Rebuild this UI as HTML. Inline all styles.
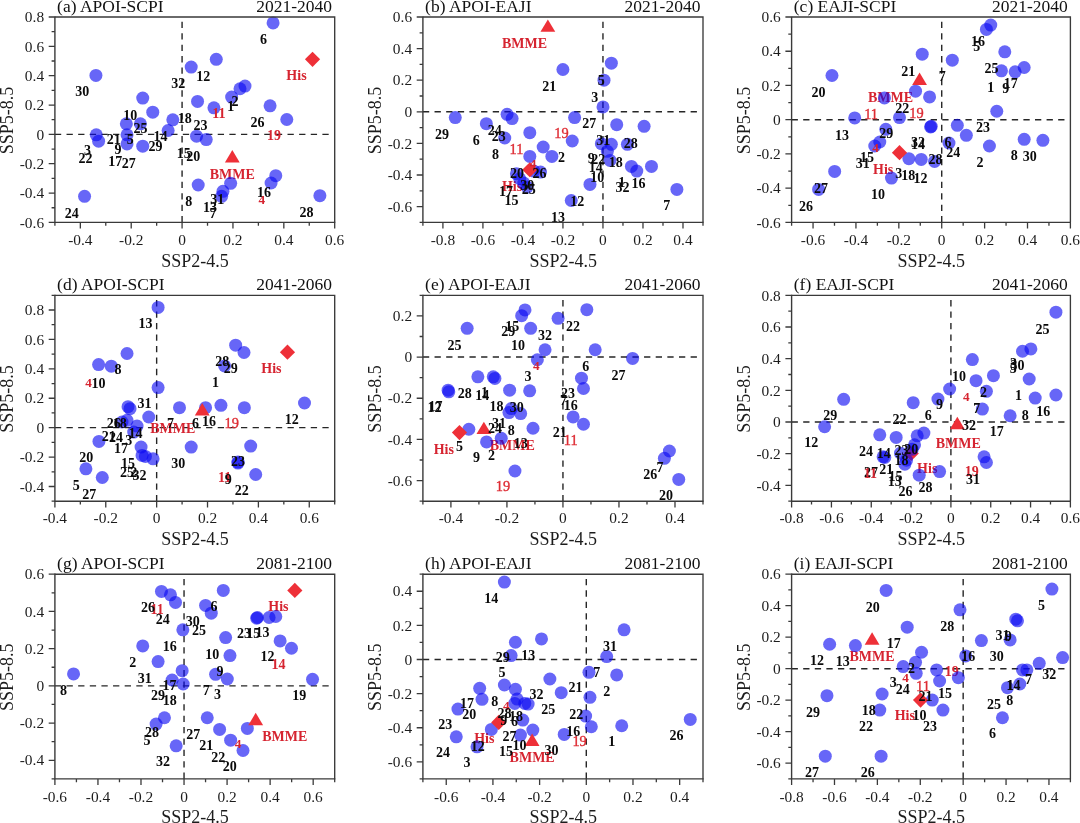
<!DOCTYPE html>
<html lang="en"><head><meta charset="utf-8"><title>SSP scatter panels</title>
<style>html,body{margin:0;padding:0;background:#fff}body{width:1080px;height:823px;overflow:hidden}svg{display:block;filter:blur(0.4px);font-family:"Liberation Serif","Times New Roman",serif}.t{font-size:15.4px;fill:#1c1c1c}.ti{font-size:16.5px;fill:#111;letter-spacing:0}.al{font-size:18px;fill:#1c1c1c}.n{font-size:14px;font-weight:bold;fill:#0a0a0a;text-anchor:middle}.r{font-size:14px;font-weight:bold;fill:rgb(214,36,48);text-anchor:middle}.r4{font-size:13.2px}.b{font-size:14px;font-weight:bold;fill:rgb(214,36,48);text-anchor:middle}.rr{font-size:14.4px;fill:rgb(222,44,52);stroke:rgb(222,44,52);stroke-width:0.35px;text-anchor:middle}.c{fill:rgb(10,8,242);fill-opacity:0.62}.ax{stroke:#3a3a3a;stroke-width:1.4;fill:none}.fr{stroke:#3a3a3a;stroke-width:1.35;fill:none}.tk{stroke:#3a3a3a;stroke-width:1.3}.d{stroke:#262626;stroke-width:1.4;fill:none}.m{fill:rgb(238,48,56)}</style></head><body>
<svg width="1080" height="823" viewBox="0 0 1080 823">
<rect width="1080" height="823" fill="#fff"/>
<g id="panel-a">
<path class="d" stroke-dasharray="6.3 5.33" d="M54.9 134.37H329.2"/>
<path class="d" stroke-dasharray="6.3 5.13" d="M182.08 222.4V21.3"/>
<text class="b" x="296.49" y="80.08">His</text><text class="b" x="232.31" y="178.65">BMME</text>
<circle class="c" cx="273.09" cy="22.92" r="6.5"/><circle class="c" cx="216.27" cy="59.34" r="6.5"/><circle class="c" cx="191.2" cy="67.03" r="6.5"/><circle class="c" cx="95.93" cy="75.38" r="6.5"/><circle class="c" cx="245.01" cy="86.07" r="6.5"/><circle class="c" cx="240" cy="88.75" r="6.5"/><circle class="c" cx="231.64" cy="97.1" r="6.5"/><circle class="c" cx="142.73" cy="98.1" r="6.5"/><circle class="c" cx="197.55" cy="101.45" r="6.5"/><circle class="c" cx="270.08" cy="105.79" r="6.5"/><circle class="c" cx="213.93" cy="107.79" r="6.5"/><circle class="c" cx="152.76" cy="112.14" r="6.5"/><circle class="c" cx="286.8" cy="119.49" r="6.5"/><circle class="c" cx="172.81" cy="119.82" r="6.5"/><circle class="c" cx="126.35" cy="123.83" r="6.5"/><circle class="c" cx="140.39" cy="123.83" r="6.5"/><circle class="c" cx="168.13" cy="130.52" r="6.5"/><circle class="c" cx="127.02" cy="134.86" r="6.5"/><circle class="c" cx="96.27" cy="134.86" r="6.5"/><circle class="c" cx="98.61" cy="141.21" r="6.5"/><circle class="c" cx="127.02" cy="143.88" r="6.5"/><circle class="c" cx="142.73" cy="146.22" r="6.5"/><circle class="c" cx="196.55" cy="136.2" r="6.5"/><circle class="c" cx="206.24" cy="139.54" r="6.5"/><circle class="c" cx="275.77" cy="175.63" r="6.5"/><circle class="c" cx="271.09" cy="182.98" r="6.5"/><circle class="c" cx="230.64" cy="183.31" r="6.5"/><circle class="c" cx="198.22" cy="184.98" r="6.5"/><circle class="c" cx="222.95" cy="191.33" r="6.5"/><circle class="c" cx="221.62" cy="196.34" r="6.5"/><circle class="c" cx="84.57" cy="196.34" r="6.5"/><circle class="c" cx="319.89" cy="195.67" r="6.5"/>
<path class="m" d="M232.31 149.98L239.71 162.38L224.91 162.38Z"/>
<path class="m" d="M312.53 51.74L320.13 59.34L312.53 66.94L304.93 59.34Z"/>
<text class="n" x="263.4" y="43.99">6</text><text class="n" x="203.23" y="80.75">12</text><text class="n" x="178.16" y="88.44">32</text><text class="n" x="82.23" y="96.12">30</text><text class="n" x="234.99" y="105.81">2</text><text class="n" x="230.64" y="111.16">1</text><text class="r" x="218.94" y="118.41">11</text><text class="n" x="130.36" y="119.51">10</text><text class="n" x="184.85" y="122.85">18</text><text class="n" x="257.38" y="126.86">26</text><text class="n" x="200.56" y="129.54">23</text><text class="n" x="140.39" y="132.54">25</text><text class="r" x="274.09" y="140.13">19</text><text class="n" x="160.45" y="140.9">14</text><text class="n" x="113.65" y="144.24">21</text><text class="n" x="130.36" y="144.24">5</text><text class="n" x="155.43" y="151.25">29</text><text class="n" x="87.58" y="155.26">3</text><text class="n" x="117.99" y="154.26">9</text><text class="n" x="183.84" y="157.94">15</text><text class="n" x="193.2" y="160.94">20</text><text class="n" x="85.57" y="162.62">22</text><text class="n" x="115.32" y="165.96">17</text><text class="n" x="128.69" y="167.96">27</text><text class="n" x="264.07" y="197.03">16</text><text class="r r4" x="261.73" y="204.28">4</text><text class="n" x="217.27" y="204.38">31</text><text class="n" x="188.86" y="206.39">8</text><text class="n" x="209.92" y="212.07">13</text><text class="n" x="212.92" y="217.75">7</text><text class="n" x="71.87" y="217.75">24</text><text class="n" x="306.52" y="217.08">28</text>
<path class="fr" d="M54.9 17H334.7V222.4"/>
<path class="ax" d="M54.9 16.4V222.4H335.3"/>
<path class="tk" d="M54.9 222.4v3.3M80.34 222.4v6.2M105.77 222.4v3.3M131.21 222.4v6.2M156.65 222.4v3.3M182.08 222.4v6.2M207.52 222.4v3.3M232.95 222.4v6.2M258.39 222.4v3.3M283.83 222.4v6.2M309.26 222.4v3.3M334.7 222.4v6.2M54.9 222.4h-6.2M54.9 207.73h-3.3M54.9 193.06h-6.2M54.9 178.39h-3.3M54.9 163.71h-6.2M54.9 149.04h-3.3M54.9 134.37h-6.2M54.9 119.7h-3.3M54.9 105.03h-6.2M54.9 90.36h-3.3M54.9 75.69h-6.2M54.9 61.01h-3.3M54.9 46.34h-6.2M54.9 31.67h-3.3M54.9 17h-6.2"/>
<text class="t" text-anchor="middle" x="80.34" y="245.1">-0.4</text><text class="t" text-anchor="middle" x="131.21" y="245.1">-0.2</text><text class="t" text-anchor="middle" x="182.08" y="245.1">0</text><text class="t" text-anchor="middle" x="232.95" y="245.1">0.2</text><text class="t" text-anchor="middle" x="283.83" y="245.1">0.4</text><text class="t" text-anchor="middle" x="334.7" y="245.1">0.6</text><text class="t" text-anchor="end" x="44.1" y="227.6">-0.6</text><text class="t" text-anchor="end" x="44.1" y="198.26">-0.4</text><text class="t" text-anchor="end" x="44.1" y="168.91">-0.2</text><text class="t" text-anchor="end" x="44.1" y="139.57">0</text><text class="t" text-anchor="end" x="44.1" y="110.23">0.2</text><text class="t" text-anchor="end" x="44.1" y="80.89">0.4</text><text class="t" text-anchor="end" x="44.1" y="51.54">0.6</text><text class="t" text-anchor="end" x="44.1" y="22.2">0.8</text>
<text class="ti" transform="translate(57.1 12.1) scale(1.06 1)">(a) APOI-SCPI</text>
<text class="ti" text-anchor="end" transform="translate(332.1 12.1) scale(1.06 1)">2021-2040</text>
<text class="al" text-anchor="middle" x="195.1" y="266.6">SSP2-4.5</text>
<text class="al" text-anchor="middle" transform="translate(13.3 120.4) rotate(-90)">SSP5-8.5</text>
</g>
<g id="panel-b">
<path class="d" stroke-dasharray="6.3 5.34" d="M422.9 111.8H697.5"/>
<path class="d" stroke-dasharray="6.3 5.13" d="M602.96 222.4V21.3"/>
<text class="b" x="524.46" y="48.14">BMME</text><text class="b" x="512.09" y="191.15">His</text>
<circle class="c" cx="611.36" cy="63.15" r="6.5"/><circle class="c" cx="562.9" cy="69.5" r="6.5"/><circle class="c" cx="604.01" cy="80.19" r="6.5"/><circle class="c" cx="603.01" cy="106.93" r="6.5"/><circle class="c" cx="455.26" cy="117.62" r="6.5"/><circle class="c" cx="507.08" cy="114.28" r="6.5"/><circle class="c" cx="512.09" cy="118.62" r="6.5"/><circle class="c" cx="486.35" cy="123.63" r="6.5"/><circle class="c" cx="574.6" cy="117.62" r="6.5"/><circle class="c" cx="616.71" cy="124.64" r="6.5"/><circle class="c" cx="644.12" cy="126.31" r="6.5"/><circle class="c" cx="529.81" cy="132.65" r="6.5"/><circle class="c" cx="504.74" cy="138" r="6.5"/><circle class="c" cx="572.26" cy="141.01" r="6.5"/><circle class="c" cx="543.18" cy="147.02" r="6.5"/><circle class="c" cx="529.81" cy="156.38" r="6.5"/><circle class="c" cx="551.87" cy="156.38" r="6.5"/><circle class="c" cx="601.34" cy="143.68" r="6.5"/><circle class="c" cx="611.36" cy="144.35" r="6.5"/><circle class="c" cx="607.35" cy="151.37" r="6.5"/><circle class="c" cx="610.03" cy="160.39" r="6.5"/><circle class="c" cx="627.41" cy="144.35" r="6.5"/><circle class="c" cx="631.42" cy="166.4" r="6.5"/><circle class="c" cx="636.77" cy="171.08" r="6.5"/><circle class="c" cx="651.48" cy="166.4" r="6.5"/><circle class="c" cx="676.88" cy="189.46" r="6.5"/><circle class="c" cx="589.97" cy="184.45" r="6.5"/><circle class="c" cx="571.25" cy="200.49" r="6.5"/><circle class="c" cx="540.5" cy="172.08" r="6.5"/><circle class="c" cx="516.43" cy="173.75" r="6.5"/><circle class="c" cx="519.78" cy="178.77" r="6.5"/><circle class="c" cx="523.79" cy="183.11" r="6.5"/><circle class="c" cx="527.13" cy="187.12" r="6.5"/><circle class="c" cx="533.82" cy="171.08" r="6.5"/>
<path class="m" d="M547.86 19.46L555.26 31.86L540.46 31.86Z"/>
<path class="m" d="M529.81 162.14L537.41 169.74L529.81 177.34L522.21 169.74Z"/>
<text class="n" x="549.19" y="90.91">21</text><text class="n" x="601.34" y="84.89">5</text><text class="n" x="594.65" y="101.6">3</text><text class="n" x="589.3" y="128.33">27</text><text class="n" x="441.89" y="139.36">29</text><text class="n" x="494.71" y="135.02">24</text><text class="n" x="498.72" y="140.7">23</text><text class="n" x="476.32" y="145.04">6</text><text class="rr" x="561.56" y="138.26">19</text><text class="rr" x="516.43" y="153.96">11</text><text class="n" x="495.38" y="159.41">8</text><text class="n" x="561.56" y="161.75">2</text><text class="n" x="603.34" y="145.04">31</text><text class="n" x="630.75" y="147.71">28</text><text class="n" x="591.31" y="163.42">9</text><text class="n" x="598.33" y="164.42">22</text><text class="n" x="615.71" y="166.76">18</text><text class="n" x="595.65" y="171.77">14</text><text class="n" x="597.33" y="181.8">10</text><text class="r r4" x="533.15" y="168.33">4</text><text class="n" x="517.1" y="177.79">20</text><text class="n" x="539.5" y="177.79">26</text><text class="n" x="621.73" y="186.81">1</text><text class="n" x="622.4" y="191.82">32</text><text class="n" x="638.44" y="187.81">16</text><text class="n" x="506.07" y="195.83">17</text><text class="n" x="527.13" y="190.15">30</text><text class="n" x="528.8" y="194.16">25</text><text class="n" x="511.42" y="204.52">15</text><text class="n" x="577.27" y="205.85">12</text><text class="n" x="557.88" y="221.89">13</text><text class="n" x="666.85" y="209.53">7</text>
<path class="fr" d="M422.9 17H703V222.4"/>
<path class="ax" d="M422.9 16.4V222.4H703.6"/>
<path class="tk" d="M422.9 222.4v3.3M442.91 222.4v6.2M462.91 222.4v3.3M482.92 222.4v6.2M502.93 222.4v3.3M522.94 222.4v6.2M542.94 222.4v3.3M562.95 222.4v6.2M582.96 222.4v3.3M602.96 222.4v6.2M622.97 222.4v3.3M642.98 222.4v6.2M662.99 222.4v3.3M682.99 222.4v6.2M703 222.4v3.3M422.9 222.4h-3.3M422.9 206.6h-6.2M422.9 190.8h-3.3M422.9 175h-6.2M422.9 159.2h-3.3M422.9 143.4h-6.2M422.9 127.6h-3.3M422.9 111.8h-6.2M422.9 96h-3.3M422.9 80.2h-6.2M422.9 64.4h-3.3M422.9 48.6h-6.2M422.9 32.8h-3.3M422.9 17h-6.2"/>
<text class="t" text-anchor="middle" x="442.91" y="245.1">-0.8</text><text class="t" text-anchor="middle" x="482.92" y="245.1">-0.6</text><text class="t" text-anchor="middle" x="522.94" y="245.1">-0.4</text><text class="t" text-anchor="middle" x="562.95" y="245.1">-0.2</text><text class="t" text-anchor="middle" x="602.96" y="245.1">0</text><text class="t" text-anchor="middle" x="642.98" y="245.1">0.2</text><text class="t" text-anchor="middle" x="682.99" y="245.1">0.4</text><text class="t" text-anchor="end" x="412.1" y="211.8">-0.6</text><text class="t" text-anchor="end" x="412.1" y="180.2">-0.4</text><text class="t" text-anchor="end" x="412.1" y="148.6">-0.2</text><text class="t" text-anchor="end" x="412.1" y="117">0</text><text class="t" text-anchor="end" x="412.1" y="85.4">0.2</text><text class="t" text-anchor="end" x="412.1" y="53.8">0.4</text><text class="t" text-anchor="end" x="412.1" y="22.2">0.6</text>
<text class="ti" transform="translate(425.1 12.1) scale(1.06 1)">(b) APOI-EAJI</text>
<text class="ti" text-anchor="end" transform="translate(700.4 12.1) scale(1.06 1)">2021-2040</text>
<text class="al" text-anchor="middle" x="563.25" y="266.6">SSP2-4.5</text>
<text class="al" text-anchor="middle" transform="translate(381.3 120.4) rotate(-90)">SSP5-8.5</text>
</g>
<g id="panel-c">
<path class="d" stroke-dasharray="6.3 5.29" d="M791.6 119.7H1064.9"/>
<path class="d" stroke-dasharray="6.3 5.13" d="M941.72 222.4V21.3"/>
<text class="b" x="890.47" y="101.6">BMME</text><text class="b" x="883.12" y="174.44">His</text>
<circle class="c" cx="990.75" cy="25.06" r="6.5"/><circle class="c" cx="986.41" cy="29.4" r="6.5"/><circle class="c" cx="1004.79" cy="51.79" r="6.5"/><circle class="c" cx="922.23" cy="54.13" r="6.5"/><circle class="c" cx="952.31" cy="60.15" r="6.5"/><circle class="c" cx="831.98" cy="75.52" r="6.5"/><circle class="c" cx="1024.18" cy="67.5" r="6.5"/><circle class="c" cx="1015.15" cy="71.84" r="6.5"/><circle class="c" cx="1001.45" cy="70.84" r="6.5"/><circle class="c" cx="915.54" cy="91.22" r="6.5"/><circle class="c" cx="929.58" cy="96.9" r="6.5"/><circle class="c" cx="884.46" cy="97.9" r="6.5"/><circle class="c" cx="996.77" cy="111.27" r="6.5"/><circle class="c" cx="854.71" cy="117.95" r="6.5"/><circle class="c" cx="899.5" cy="117.62" r="6.5"/><circle class="c" cx="930.58" cy="126.97" r="6.5"/><circle class="c" cx="885.79" cy="129.31" r="6.5"/><circle class="c" cx="957.33" cy="125.3" r="6.5"/><circle class="c" cx="966.35" cy="135.33" r="6.5"/><circle class="c" cx="879.78" cy="142.01" r="6.5"/><circle class="c" cx="874.76" cy="146.02" r="6.5"/><circle class="c" cx="948.97" cy="143.01" r="6.5"/><circle class="c" cx="989.42" cy="146.02" r="6.5"/><circle class="c" cx="1024.18" cy="139.34" r="6.5"/><circle class="c" cx="1042.9" cy="140.34" r="6.5"/><circle class="c" cx="908.86" cy="158.72" r="6.5"/><circle class="c" cx="921.23" cy="159.39" r="6.5"/><circle class="c" cx="934.6" cy="161.39" r="6.5"/><circle class="c" cx="834.65" cy="171.42" r="6.5"/><circle class="c" cx="891.48" cy="178.1" r="6.5"/><circle class="c" cx="818.61" cy="189.46" r="6.5"/><circle class="c" cx="931.25" cy="126.31" r="6.5"/>
<path class="m" d="M919.55 72.59L926.95 84.99L912.15 84.99Z"/>
<path class="m" d="M899.5 145.1L907.1 152.7L899.5 160.3L891.9 152.7Z"/>
<text class="n" x="978.05" y="46.47">16</text><text class="n" x="976.71" y="50.81">5</text><text class="n" x="908.19" y="75.54">21</text><text class="n" x="942.28" y="80.88">7</text><text class="n" x="991.42" y="72.53">25</text><text class="n" x="1010.81" y="88.24">17</text><text class="n" x="990.75" y="91.58">1</text><text class="n" x="1005.79" y="92.58">9</text><text class="n" x="818.61" y="96.59">20</text><text class="n" x="902.17" y="112.63">22</text><text class="rr" x="871.09" y="119.21">11</text><text class="rr" x="916.55" y="117.54">19</text><text class="n" x="983.06" y="132.34">23</text><text class="n" x="842.01" y="140.03">13</text><text class="n" x="886.13" y="138.36">29</text><text class="n" x="917.88" y="146.71">32</text><text class="n" x="917.88" y="149.05">14</text><text class="n" x="947.97" y="146.71">6</text><text class="r r4" x="875.43" y="151.62">4</text><text class="n" x="953.31" y="156.74">24</text><text class="n" x="935.6" y="164.42">28</text><text class="n" x="867.08" y="162.42">15</text><text class="n" x="862.73" y="168.43">31</text><text class="n" x="980.06" y="167.43">2</text><text class="n" x="1014.15" y="160.08">8</text><text class="n" x="1029.86" y="160.74">30</text><text class="n" x="898.83" y="178.45">3</text><text class="n" x="908.19" y="180.13">18</text><text class="n" x="920.56" y="182.8">12</text><text class="n" x="878.11" y="198.5">10</text><text class="n" x="820.95" y="192.82">27</text><text class="n" x="805.91" y="211.2">26</text>
<path class="fr" d="M791.6 17H1070.4V222.4"/>
<path class="ax" d="M791.6 16.4V222.4H1071"/>
<path class="tk" d="M791.6 222.4v3.3M813.05 222.4v6.2M834.49 222.4v3.3M855.94 222.4v6.2M877.38 222.4v3.3M898.83 222.4v6.2M920.28 222.4v3.3M941.72 222.4v6.2M963.17 222.4v3.3M984.62 222.4v6.2M1006.06 222.4v3.3M1027.51 222.4v6.2M1048.95 222.4v3.3M1070.4 222.4v6.2M791.6 222.4h-6.2M791.6 205.28h-3.3M791.6 188.17h-6.2M791.6 171.05h-3.3M791.6 153.93h-6.2M791.6 136.82h-3.3M791.6 119.7h-6.2M791.6 102.58h-3.3M791.6 85.47h-6.2M791.6 68.35h-3.3M791.6 51.23h-6.2M791.6 34.12h-3.3M791.6 17h-6.2"/>
<text class="t" text-anchor="middle" x="813.05" y="245.1">-0.6</text><text class="t" text-anchor="middle" x="855.94" y="245.1">-0.4</text><text class="t" text-anchor="middle" x="898.83" y="245.1">-0.2</text><text class="t" text-anchor="middle" x="941.72" y="245.1">0</text><text class="t" text-anchor="middle" x="984.62" y="245.1">0.2</text><text class="t" text-anchor="middle" x="1027.51" y="245.1">0.4</text><text class="t" text-anchor="middle" x="1070.4" y="245.1">0.6</text><text class="t" text-anchor="end" x="780.8" y="227.6">-0.6</text><text class="t" text-anchor="end" x="780.8" y="193.37">-0.4</text><text class="t" text-anchor="end" x="780.8" y="159.13">-0.2</text><text class="t" text-anchor="end" x="780.8" y="124.9">0</text><text class="t" text-anchor="end" x="780.8" y="90.67">0.2</text><text class="t" text-anchor="end" x="780.8" y="56.43">0.4</text><text class="t" text-anchor="end" x="780.8" y="22.2">0.6</text>
<text class="ti" transform="translate(793.8 12.1) scale(1.06 1)">(c) EAJI-SCPI</text>
<text class="ti" text-anchor="end" transform="translate(1067.8 12.1) scale(1.06 1)">2021-2040</text>
<text class="al" text-anchor="middle" x="931.3" y="266.6">SSP2-4.5</text>
<text class="al" text-anchor="middle" transform="translate(750 120.4) rotate(-90)">SSP5-8.5</text>
</g>
<g id="panel-d">
<path class="d" stroke-dasharray="6.3 5.33" d="M54.9 427.66H329.2"/>
<path class="d" stroke-dasharray="6.3 5.16" d="M156.65 501.2V299.6"/>
<text class="b" x="271.42" y="372.59">His</text><text class="b" x="172.81" y="432.74">BMME</text>
<circle class="c" cx="158.11" cy="307.41" r="6.5"/><circle class="c" cx="235.65" cy="345.17" r="6.5"/><circle class="c" cx="244.01" cy="352.52" r="6.5"/><circle class="c" cx="127.02" cy="353.52" r="6.5"/><circle class="c" cx="98.61" cy="364.55" r="6.5"/><circle class="c" cx="111.31" cy="366.22" r="6.5"/><circle class="c" cx="224.62" cy="365.89" r="6.5"/><circle class="c" cx="158.11" cy="387.61" r="6.5"/><circle class="c" cx="304.51" cy="402.98" r="6.5"/><circle class="c" cx="128.02" cy="406.65" r="6.5"/><circle class="c" cx="130.03" cy="408.66" r="6.5"/><circle class="c" cx="179.5" cy="407.65" r="6.5"/><circle class="c" cx="205.57" cy="407.65" r="6.5"/><circle class="c" cx="220.95" cy="405.32" r="6.5"/><circle class="c" cx="244.35" cy="407.65" r="6.5"/><circle class="c" cx="148.75" cy="417.01" r="6.5"/><circle class="c" cx="127.02" cy="420.35" r="6.5"/><circle class="c" cx="122.01" cy="422.02" r="6.5"/><circle class="c" cx="137.05" cy="426.03" r="6.5"/><circle class="c" cx="133.7" cy="432.05" r="6.5"/><circle class="c" cx="98.94" cy="441.4" r="6.5"/><circle class="c" cx="141.06" cy="447.08" r="6.5"/><circle class="c" cx="142.06" cy="455.44" r="6.5"/><circle class="c" cx="145.4" cy="456.44" r="6.5"/><circle class="c" cx="153.09" cy="458.78" r="6.5"/><circle class="c" cx="191.2" cy="447.08" r="6.5"/><circle class="c" cx="250.7" cy="446.08" r="6.5"/><circle class="c" cx="237.99" cy="463.12" r="6.5"/><circle class="c" cx="255.71" cy="474.48" r="6.5"/><circle class="c" cx="85.91" cy="468.8" r="6.5"/><circle class="c" cx="102.28" cy="477.49" r="6.5"/><circle class="c" cx="237.99" cy="462.12" r="6.5"/>
<path class="m" d="M202.23 403.06L209.63 415.46L194.83 415.46Z"/>
<path class="m" d="M287.47 344.59L295.07 352.19L287.47 359.79L279.87 352.19Z"/>
<text class="n" x="145.4" y="328.15">13</text><text class="n" x="222.28" y="365.91">28</text><text class="n" x="230.64" y="373.26">29</text><text class="n" x="117.99" y="374.26">8</text><text class="r r4" x="88.58" y="386.53">4</text><text class="n" x="98.61" y="387.63">10</text><text class="n" x="215.6" y="387.29">1</text><text class="n" x="144.4" y="408.35">31</text><text class="n" x="291.81" y="424.38">12</text><text class="n" x="208.91" y="425.72">16</text><text class="n" x="195.54" y="428.39">6</text><text class="rr" x="231.64" y="427.63">19</text><text class="n" x="170.47" y="427.73">7</text><text class="n" x="113.65" y="427.73">26</text><text class="n" x="119.67" y="427.73">18</text><text class="n" x="108.64" y="441.09">21</text><text class="n" x="115.99" y="441.76">24</text><text class="n" x="135.38" y="438.42">14</text><text class="n" x="128.69" y="445.1">3</text><text class="n" x="121" y="453.45">17</text><text class="n" x="86.24" y="462.48">20</text><text class="n" x="128.02" y="467.82">15</text><text class="n" x="178.16" y="467.82">30</text><text class="n" x="237.99" y="466.15">23</text><text class="n" x="127.02" y="476.84">25</text><text class="n" x="133.7" y="476.84">2</text><text class="n" x="139.39" y="479.52">32</text><text class="r" x="224.62" y="481.76">11</text><text class="n" x="228.3" y="483.53">9</text><text class="n" x="241.67" y="494.55">22</text><text class="n" x="76.21" y="490.21">5</text><text class="n" x="89.25" y="498.56">27</text>
<path class="fr" d="M54.9 295.3H334.7V501.2"/>
<path class="ax" d="M54.9 294.7V501.2H335.3"/>
<path class="tk" d="M54.9 501.2v6.2M80.34 501.2v3.3M105.77 501.2v6.2M131.21 501.2v3.3M156.65 501.2v6.2M182.08 501.2v3.3M207.52 501.2v6.2M232.95 501.2v3.3M258.39 501.2v6.2M283.83 501.2v3.3M309.26 501.2v6.2M334.7 501.2v3.3M54.9 501.2h-3.3M54.9 486.49h-6.2M54.9 471.79h-3.3M54.9 457.08h-6.2M54.9 442.37h-3.3M54.9 427.66h-6.2M54.9 412.96h-3.3M54.9 398.25h-6.2M54.9 383.54h-3.3M54.9 368.84h-6.2M54.9 354.13h-3.3M54.9 339.42h-6.2M54.9 324.71h-3.3M54.9 310.01h-6.2M54.9 295.3h-3.3"/>
<text class="t" text-anchor="middle" x="54.9" y="523.2">-0.4</text><text class="t" text-anchor="middle" x="105.77" y="523.2">-0.2</text><text class="t" text-anchor="middle" x="156.65" y="523.2">0</text><text class="t" text-anchor="middle" x="207.52" y="523.2">0.2</text><text class="t" text-anchor="middle" x="258.39" y="523.2">0.4</text><text class="t" text-anchor="middle" x="309.26" y="523.2">0.6</text><text class="t" text-anchor="end" x="44.1" y="491.69">-0.4</text><text class="t" text-anchor="end" x="44.1" y="462.28">-0.2</text><text class="t" text-anchor="end" x="44.1" y="432.86">0</text><text class="t" text-anchor="end" x="44.1" y="403.45">0.2</text><text class="t" text-anchor="end" x="44.1" y="374.04">0.4</text><text class="t" text-anchor="end" x="44.1" y="344.62">0.6</text><text class="t" text-anchor="end" x="44.1" y="315.21">0.8</text>
<text class="ti" transform="translate(57.1 290.4) scale(1.06 1)">(d) APOI-SCPI</text>
<text class="ti" text-anchor="end" transform="translate(332.1 290.4) scale(1.06 1)">2041-2060</text>
<text class="al" text-anchor="middle" x="195.1" y="544.6">SSP2-4.5</text>
<text class="al" text-anchor="middle" transform="translate(13.3 398.95) rotate(-90)">SSP5-8.5</text>
</g>
<g id="panel-e">
<path class="d" stroke-dasharray="6.3 5.34" d="M422.9 357.07H697.5"/>
<path class="d" stroke-dasharray="6.3 5.16" d="M562.95 501.2V299.6"/>
<text class="b" x="512.29" y="449.66">BMME</text><text class="b" x="443.77" y="454">His</text>
<circle class="c" cx="524.99" cy="309.97" r="6.5"/><circle class="c" cx="521.65" cy="315.65" r="6.5"/><circle class="c" cx="586.83" cy="309.63" r="6.5"/><circle class="c" cx="558.08" cy="318.32" r="6.5"/><circle class="c" cx="467.16" cy="328.34" r="6.5"/><circle class="c" cx="530.67" cy="328.34" r="6.5"/><circle class="c" cx="545.05" cy="349.73" r="6.5"/><circle class="c" cx="595.19" cy="349.73" r="6.5"/><circle class="c" cx="537.36" cy="359.75" r="6.5"/><circle class="c" cx="632.62" cy="358.42" r="6.5"/><circle class="c" cx="477.86" cy="376.8" r="6.5"/><circle class="c" cx="493.24" cy="376.8" r="6.5"/><circle class="c" cx="494.91" cy="378.47" r="6.5"/><circle class="c" cx="581.48" cy="378.13" r="6.5"/><circle class="c" cx="583.49" cy="388.49" r="6.5"/><circle class="c" cx="448.11" cy="390.16" r="6.5"/><circle class="c" cx="448.78" cy="391.83" r="6.5"/><circle class="c" cx="509.62" cy="390.16" r="6.5"/><circle class="c" cx="529.67" cy="390.83" r="6.5"/><circle class="c" cx="511.29" cy="408.54" r="6.5"/><circle class="c" cx="508.95" cy="412.55" r="6.5"/><circle class="c" cx="520.65" cy="413.55" r="6.5"/><circle class="c" cx="573.12" cy="416.89" r="6.5"/><circle class="c" cx="583.49" cy="424.24" r="6.5"/><circle class="c" cx="468.84" cy="429.26" r="6.5"/><circle class="c" cx="533.01" cy="428.25" r="6.5"/><circle class="c" cx="486.55" cy="441.95" r="6.5"/><circle class="c" cx="501.26" cy="438.28" r="6.5"/><circle class="c" cx="514.96" cy="471.02" r="6.5"/><circle class="c" cx="669.39" cy="450.98" r="6.5"/><circle class="c" cx="664.38" cy="458.33" r="6.5"/><circle class="c" cx="678.75" cy="479.38" r="6.5"/>
<path class="m" d="M483.88 421.65L491.28 434.05L476.48 434.05Z"/>
<path class="m" d="M459.48 425L467.08 432.6L459.48 440.2L451.88 432.6Z"/>
<text class="n" x="573.12" y="331.04">22</text><text class="n" x="512.29" y="331.04">15</text><text class="n" x="508.28" y="336.39">29</text><text class="n" x="545.05" y="339.73">32</text><text class="n" x="454.46" y="349.75">25</text><text class="n" x="517.97" y="350.42">10</text><text class="r r4" x="536.36" y="370.37">4</text><text class="n" x="585.83" y="371.14">6</text><text class="n" x="618.58" y="379.82">27</text><text class="n" x="528" y="381.16">3</text><text class="n" x="464.82" y="397.87">28</text><text class="n" x="482.21" y="399.54">14</text><text class="n" x="484.55" y="397.2">1</text><text class="n" x="568.11" y="397.87">23</text><text class="n" x="570.78" y="409.56">16</text><text class="n" x="563.43" y="404.55">7</text><text class="n" x="435.41" y="410.9">17</text><text class="n" x="434.41" y="412.24">12</text><text class="n" x="496.58" y="411.23">18</text><text class="n" x="516.63" y="411.57">30</text><text class="n" x="498.92" y="428.28">31</text><text class="n" x="494.91" y="433.29">24</text><text class="n" x="511.29" y="434.62">8</text><text class="n" x="559.75" y="437.3">21</text><text class="rr" x="570.78" y="444.88">11</text><text class="n" x="520.65" y="448.32">13</text><text class="n" x="459.48" y="450.66">5</text><text class="n" x="491.56" y="459.68">2</text><text class="n" x="476.52" y="462.36">9</text><text class="rr" x="502.93" y="491.33">19</text><text class="n" x="650.34" y="479.07">26</text><text class="n" x="660.03" y="472.38">7</text><text class="n" x="666.05" y="500.12">20</text>
<path class="fr" d="M422.9 295.3H703V501.2"/>
<path class="ax" d="M422.9 294.7V501.2H703.6"/>
<path class="tk" d="M422.9 501.2v3.3M450.91 501.2v6.2M478.92 501.2v3.3M506.93 501.2v6.2M534.94 501.2v3.3M562.95 501.2v6.2M590.96 501.2v3.3M618.97 501.2v6.2M646.98 501.2v3.3M674.99 501.2v6.2M703 501.2v3.3M422.9 501.2h-3.3M422.9 480.61h-6.2M422.9 460.02h-3.3M422.9 439.43h-6.2M422.9 418.84h-3.3M422.9 398.25h-6.2M422.9 377.66h-3.3M422.9 357.07h-6.2M422.9 336.48h-3.3M422.9 315.89h-6.2M422.9 295.3h-3.3"/>
<text class="t" text-anchor="middle" x="450.91" y="523.2">-0.4</text><text class="t" text-anchor="middle" x="506.93" y="523.2">-0.2</text><text class="t" text-anchor="middle" x="562.95" y="523.2">0</text><text class="t" text-anchor="middle" x="618.97" y="523.2">0.2</text><text class="t" text-anchor="middle" x="674.99" y="523.2">0.4</text><text class="t" text-anchor="end" x="412.1" y="485.81">-0.6</text><text class="t" text-anchor="end" x="412.1" y="444.63">-0.4</text><text class="t" text-anchor="end" x="412.1" y="403.45">-0.2</text><text class="t" text-anchor="end" x="412.1" y="362.27">0</text><text class="t" text-anchor="end" x="412.1" y="321.09">0.2</text>
<text class="ti" transform="translate(425.1 290.4) scale(1.06 1)">(e) APOI-EAJI</text>
<text class="ti" text-anchor="end" transform="translate(700.4 290.4) scale(1.06 1)">2041-2060</text>
<text class="al" text-anchor="middle" x="563.25" y="544.6">SSP2-4.5</text>
<text class="al" text-anchor="middle" transform="translate(381.3 398.95) rotate(-90)">SSP5-8.5</text>
</g>
<g id="panel-f">
<path class="d" stroke-dasharray="6.3 5.29" d="M791.6 422.01H1064.9"/>
<path class="d" stroke-dasharray="6.3 5.16" d="M950.91 501.2V299.6"/>
<text class="b" x="958.33" y="448.17">BMME</text><text class="b" x="927.24" y="473.23">His</text>
<path class="m" d="M911.2 445.9L918.8 453.5L911.2 461.1L903.6 453.5Z"/>
<circle class="c" cx="1055.93" cy="312.16" r="6.5"/><circle class="c" cx="1030.86" cy="348.91" r="6.5"/><circle class="c" cx="1022.51" cy="351.25" r="6.5"/><circle class="c" cx="972.37" cy="359.6" r="6.5"/><circle class="c" cx="993.43" cy="375.64" r="6.5"/><circle class="c" cx="976.04" cy="380.66" r="6.5"/><circle class="c" cx="1029.19" cy="378.98" r="6.5"/><circle class="c" cx="986.41" cy="391.35" r="6.5"/><circle class="c" cx="949.64" cy="389.01" r="6.5"/><circle class="c" cx="1055.93" cy="395.02" r="6.5"/><circle class="c" cx="1035.21" cy="398.03" r="6.5"/><circle class="c" cx="937.94" cy="399.03" r="6.5"/><circle class="c" cx="913.2" cy="402.71" r="6.5"/><circle class="c" cx="843.68" cy="399.37" r="6.5"/><circle class="c" cx="982.4" cy="409.06" r="6.5"/><circle class="c" cx="1010.14" cy="415.74" r="6.5"/><circle class="c" cx="824.62" cy="426.77" r="6.5"/><circle class="c" cx="879.78" cy="434.79" r="6.5"/><circle class="c" cx="896.16" cy="437.46" r="6.5"/><circle class="c" cx="917.21" cy="435.79" r="6.5"/><circle class="c" cx="923.9" cy="433.12" r="6.5"/><circle class="c" cx="914.54" cy="444.81" r="6.5"/><circle class="c" cx="912.2" cy="449.15" r="6.5"/><circle class="c" cx="900.5" cy="453.16" r="6.5"/><circle class="c" cx="883.12" cy="456.84" r="6.5"/><circle class="c" cx="884.79" cy="457.51" r="6.5"/><circle class="c" cx="906.52" cy="460.18" r="6.5"/><circle class="c" cx="904.85" cy="464.19" r="6.5"/><circle class="c" cx="984.07" cy="456.84" r="6.5"/><circle class="c" cx="986.41" cy="462.52" r="6.5"/><circle class="c" cx="939.61" cy="471.54" r="6.5"/><circle class="c" cx="919.22" cy="475.22" r="6.5"/>
<path class="m" d="M957.33 416.83L964.73 429.23L949.93 429.23Z"/>
<text class="n" x="1042.56" y="333.56">25</text><text class="n" x="1017.49" y="369.65">30</text><text class="n" x="1013.15" y="372.99">5</text><text class="n" x="1013.48" y="367.65">3</text><text class="n" x="959" y="381.01">10</text><text class="n" x="983.4" y="397.05">2</text><text class="n" x="1018.5" y="400.39">1</text><text class="r r4" x="966.35" y="401.29">4</text><text class="n" x="939.61" y="409.41">9</text><text class="n" x="976.71" y="412.75">7</text><text class="n" x="1043.23" y="416.43">16</text><text class="n" x="1025.18" y="419.77">8</text><text class="n" x="928.25" y="420.44">6</text><text class="n" x="830.31" y="420.44">29</text><text class="n" x="899.5" y="424.45">22</text><text class="n" x="969.03" y="429.8">32</text><text class="n" x="996.77" y="436.14">17</text><text class="n" x="811.25" y="447.17">12</text><text class="n" x="866.07" y="455.53">24</text><text class="n" x="883.79" y="458.2">14</text><text class="n" x="901.5" y="454.86">23</text><text class="n" x="911.2" y="453.85">20</text><text class="n" x="901.5" y="464.55">18</text><text class="n" x="886.13" y="473.9">21</text><text class="n" x="871.09" y="477.24">27</text><text class="r" x="870.42" y="477.81">11</text><text class="r" x="971.7" y="476.14">19</text><text class="n" x="895.49" y="480.59">15</text><text class="n" x="894.82" y="485.6">13</text><text class="n" x="973.04" y="483.93">31</text><text class="n" x="925.57" y="491.61">28</text><text class="n" x="905.52" y="496.29">26</text>
<path class="fr" d="M791.6 295.3H1070.4V501.2"/>
<path class="ax" d="M791.6 294.7V501.2H1071"/>
<path class="tk" d="M791.6 501.2v6.2M811.51 501.2v3.3M831.43 501.2v6.2M851.34 501.2v3.3M871.26 501.2v6.2M891.17 501.2v3.3M911.09 501.2v6.2M931 501.2v3.3M950.91 501.2v6.2M970.83 501.2v3.3M990.74 501.2v6.2M1010.66 501.2v3.3M1030.57 501.2v6.2M1050.49 501.2v3.3M1070.4 501.2v6.2M791.6 501.2h-3.3M791.6 485.36h-6.2M791.6 469.52h-3.3M791.6 453.68h-6.2M791.6 437.85h-3.3M791.6 422.01h-6.2M791.6 406.17h-3.3M791.6 390.33h-6.2M791.6 374.49h-3.3M791.6 358.65h-6.2M791.6 342.82h-3.3M791.6 326.98h-6.2M791.6 311.14h-3.3M791.6 295.3h-6.2"/>
<text class="t" text-anchor="middle" x="791.6" y="523.2">-0.8</text><text class="t" text-anchor="middle" x="831.43" y="523.2">-0.6</text><text class="t" text-anchor="middle" x="871.26" y="523.2">-0.4</text><text class="t" text-anchor="middle" x="911.09" y="523.2">-0.2</text><text class="t" text-anchor="middle" x="950.91" y="523.2">0</text><text class="t" text-anchor="middle" x="990.74" y="523.2">0.2</text><text class="t" text-anchor="middle" x="1030.57" y="523.2">0.4</text><text class="t" text-anchor="middle" x="1070.4" y="523.2">0.6</text><text class="t" text-anchor="end" x="780.8" y="490.56">-0.4</text><text class="t" text-anchor="end" x="780.8" y="458.88">-0.2</text><text class="t" text-anchor="end" x="780.8" y="427.21">0</text><text class="t" text-anchor="end" x="780.8" y="395.53">0.2</text><text class="t" text-anchor="end" x="780.8" y="363.85">0.4</text><text class="t" text-anchor="end" x="780.8" y="332.18">0.6</text><text class="t" text-anchor="end" x="780.8" y="300.5">0.8</text>
<text class="ti" transform="translate(793.8 290.4) scale(1.06 1)">(f) EAJI-SCPI</text>
<text class="ti" text-anchor="end" transform="translate(1067.8 290.4) scale(1.06 1)">2041-2060</text>
<text class="al" text-anchor="middle" x="931.3" y="544.6">SSP2-4.5</text>
<text class="al" text-anchor="middle" transform="translate(750 398.95) rotate(-90)">SSP5-8.5</text>
</g>
<g id="panel-g">
<path class="d" stroke-dasharray="6.3 5.33" d="M54.9 685.85H329.2"/>
<path class="d" stroke-dasharray="6.3 5.09" d="M184.04 778.9V578.5"/>
<text class="r" x="157.1" y="614.42">11</text><text class="b" x="278.44" y="611.18">His</text><text class="b" x="284.79" y="741.49">BMME</text>
<circle class="c" cx="161.45" cy="591.44" r="6.5"/><circle class="c" cx="170.47" cy="594.78" r="6.5"/><circle class="c" cx="175.49" cy="602.47" r="6.5"/><circle class="c" cx="223.29" cy="590.44" r="6.5"/><circle class="c" cx="205.57" cy="605.47" r="6.5"/><circle class="c" cx="211.25" cy="613.16" r="6.5"/><circle class="c" cx="257.38" cy="617.5" r="6.5"/><circle class="c" cx="256.71" cy="618.17" r="6.5"/><circle class="c" cx="269.08" cy="617.5" r="6.5"/><circle class="c" cx="275.77" cy="616.5" r="6.5"/><circle class="c" cx="182.84" cy="629.87" r="6.5"/><circle class="c" cx="225.63" cy="637.55" r="6.5"/><circle class="c" cx="280.11" cy="640.89" r="6.5"/><circle class="c" cx="291.48" cy="648.24" r="6.5"/><circle class="c" cx="142.73" cy="645.9" r="6.5"/><circle class="c" cx="229.97" cy="655.59" r="6.5"/><circle class="c" cx="158.11" cy="661.61" r="6.5"/><circle class="c" cx="182.17" cy="670.63" r="6.5"/><circle class="c" cx="73.54" cy="673.97" r="6.5"/><circle class="c" cx="172.14" cy="679.99" r="6.5"/><circle class="c" cx="183.18" cy="684" r="6.5"/><circle class="c" cx="215.6" cy="674.31" r="6.5"/><circle class="c" cx="227.3" cy="678.98" r="6.5"/><circle class="c" cx="312.53" cy="679.32" r="6.5"/><circle class="c" cx="164.46" cy="717.74" r="6.5"/><circle class="c" cx="156.1" cy="724.09" r="6.5"/><circle class="c" cx="207.24" cy="717.74" r="6.5"/><circle class="c" cx="219.61" cy="729.44" r="6.5"/><circle class="c" cx="230.64" cy="740.13" r="6.5"/><circle class="c" cx="247.35" cy="728.44" r="6.5"/><circle class="c" cx="243.01" cy="750.49" r="6.5"/><circle class="c" cx="176.16" cy="745.81" r="6.5"/>
<path class="m" d="M255.71 712.82L263.11 725.22L248.31 725.22Z"/>
<path class="m" d="M294.82 582.84L302.42 590.44L294.82 598.04L287.22 590.44Z"/>
<text class="n" x="213.93" y="611.18">6</text><text class="n" x="148.08" y="612.18">26</text><text class="n" x="162.79" y="623.54">24</text><text class="n" x="192.87" y="625.54">30</text><text class="n" x="198.89" y="634.57">25</text><text class="n" x="244.01" y="637.91">23</text><text class="n" x="253.37" y="637.91">15</text><text class="n" x="262.4" y="636.9">13</text><text class="n" x="169.81" y="650.6">16</text><text class="n" x="212.26" y="658.96">10</text><text class="n" x="267.41" y="660.63">12</text><text class="r" x="278.44" y="668.88">14</text><text class="n" x="132.7" y="667.31">2</text><text class="n" x="219.94" y="676.33">9</text><text class="n" x="144.74" y="683.02">31</text><text class="n" x="169.47" y="690.37">17</text><text class="n" x="206.24" y="694.71">7</text><text class="n" x="217.6" y="699.05">3</text><text class="n" x="63.51" y="694.71">8</text><text class="n" x="299.16" y="699.72">19</text><text class="n" x="158.11" y="699.72">29</text><text class="n" x="169.81" y="704.74">18</text><text class="n" x="152.09" y="737.48">28</text><text class="n" x="147.08" y="744.83">5</text><text class="n" x="193.2" y="738.82">27</text><text class="n" x="206.24" y="749.84">21</text><text class="r r4" x="237.99" y="748.07">4</text><text class="n" x="218.27" y="761.54">22</text><text class="n" x="229.64" y="770.9">20</text><text class="n" x="163.12" y="765.88">32</text>
<path class="fr" d="M54.9 574.2H334.7V778.9"/>
<path class="ax" d="M54.9 573.6V778.9H335.3"/>
<path class="tk" d="M54.9 778.9v6.2M76.42 778.9v3.3M97.95 778.9v6.2M119.47 778.9v3.3M140.99 778.9v6.2M162.52 778.9v3.3M184.04 778.9v6.2M205.56 778.9v3.3M227.08 778.9v6.2M248.61 778.9v3.3M270.13 778.9v6.2M291.65 778.9v3.3M313.18 778.9v6.2M334.7 778.9v3.3M54.9 778.9h-3.3M54.9 760.29h-6.2M54.9 741.68h-3.3M54.9 723.07h-6.2M54.9 704.46h-3.3M54.9 685.85h-6.2M54.9 667.25h-3.3M54.9 648.64h-6.2M54.9 630.03h-3.3M54.9 611.42h-6.2M54.9 592.81h-3.3M54.9 574.2h-6.2"/>
<text class="t" text-anchor="middle" x="54.9" y="801.7">-0.6</text><text class="t" text-anchor="middle" x="97.95" y="801.7">-0.4</text><text class="t" text-anchor="middle" x="140.99" y="801.7">-0.2</text><text class="t" text-anchor="middle" x="184.04" y="801.7">0</text><text class="t" text-anchor="middle" x="227.08" y="801.7">0.2</text><text class="t" text-anchor="middle" x="270.13" y="801.7">0.4</text><text class="t" text-anchor="middle" x="313.18" y="801.7">0.6</text><text class="t" text-anchor="end" x="44.1" y="765.49">-0.4</text><text class="t" text-anchor="end" x="44.1" y="728.27">-0.2</text><text class="t" text-anchor="end" x="44.1" y="691.05">0</text><text class="t" text-anchor="end" x="44.1" y="653.84">0.2</text><text class="t" text-anchor="end" x="44.1" y="616.62">0.4</text><text class="t" text-anchor="end" x="44.1" y="579.4">0.6</text>
<text class="ti" transform="translate(57.1 569.3) scale(1.06 1)">(g) APOI-SCPI</text>
<text class="ti" text-anchor="end" transform="translate(332.1 569.3) scale(1.06 1)">2081-2100</text>
<text class="al" text-anchor="middle" x="195.1" y="822.9">SSP2-4.5</text>
<text class="al" text-anchor="middle" transform="translate(13.3 677.25) rotate(-90)">SSP5-8.5</text>
</g>
<g id="panel-h">
<path class="d" stroke-dasharray="6.3 5.34" d="M422.9 659.49H697.5"/>
<path class="d" stroke-dasharray="6.3 5.09" d="M586.29 778.9V578.5"/>
<text class="b" x="484.35" y="743.16">His</text><text class="rr" x="579.61" y="746.4">19</text><text class="b" x="532.14" y="762.21">BMME</text>
<circle class="c" cx="504.4" cy="582.08" r="6.5"/><circle class="c" cx="624.07" cy="629.87" r="6.5"/><circle class="c" cx="541.5" cy="638.89" r="6.5"/><circle class="c" cx="515.43" cy="642.23" r="6.5"/><circle class="c" cx="511.09" cy="655.59" r="6.5"/><circle class="c" cx="606.69" cy="656.6" r="6.5"/><circle class="c" cx="588.97" cy="672.3" r="6.5"/><circle class="c" cx="616.71" cy="674.97" r="6.5"/><circle class="c" cx="549.86" cy="678.98" r="6.5"/><circle class="c" cx="504.4" cy="685" r="6.5"/><circle class="c" cx="479.67" cy="688.34" r="6.5"/><circle class="c" cx="515.43" cy="689.34" r="6.5"/><circle class="c" cx="561.23" cy="692.68" r="6.5"/><circle class="c" cx="589.97" cy="697.36" r="6.5"/><circle class="c" cx="482.01" cy="699.37" r="6.5"/><circle class="c" cx="517.1" cy="699.03" r="6.5"/><circle class="c" cx="514.76" cy="703.38" r="6.5"/><circle class="c" cx="524.79" cy="703.38" r="6.5"/><circle class="c" cx="528.13" cy="704.04" r="6.5"/><circle class="c" cx="457.94" cy="709.06" r="6.5"/><circle class="c" cx="585.63" cy="716.07" r="6.5"/><circle class="c" cx="522.79" cy="720.08" r="6.5"/><circle class="c" cx="591.31" cy="726.77" r="6.5"/><circle class="c" cx="621.73" cy="725.76" r="6.5"/><circle class="c" cx="690.25" cy="719.42" r="6.5"/><circle class="c" cx="491.36" cy="729.44" r="6.5"/><circle class="c" cx="532.81" cy="730.11" r="6.5"/><circle class="c" cx="520.45" cy="735.12" r="6.5"/><circle class="c" cx="564.23" cy="734.45" r="6.5"/><circle class="c" cx="456.27" cy="736.79" r="6.5"/><circle class="c" cx="476.99" cy="746.82" r="6.5"/>
<path class="m" d="M532.14 733.53L539.54 745.93L524.74 745.93Z"/>
<path class="m" d="M498.72 714.82L506.32 722.42L498.72 730.02L491.12 722.42Z"/>
<text class="n" x="491.36" y="603.49">14</text><text class="n" x="610.03" y="650.6">31</text><text class="n" x="502.73" y="662.3">29</text><text class="n" x="528.13" y="660.29">13</text><text class="n" x="502.06" y="677">5</text><text class="n" x="596.66" y="677.34">7</text><text class="n" x="575.6" y="692.37">21</text><text class="n" x="606.69" y="695.71">2</text><text class="n" x="536.49" y="699.05">32</text><text class="n" x="466.96" y="708.08">17</text><text class="n" x="494.71" y="706.41">8</text><text class="r r4" x="506.41" y="709.65">4</text><text class="n" x="548.19" y="714.09">25</text><text class="n" x="469.3" y="719.1">20</text><text class="n" x="504.4" y="718.1">28</text><text class="n" x="576.27" y="718.77">22</text><text class="n" x="516.1" y="721.44">18</text><text class="n" x="503.73" y="725.45">9</text><text class="n" x="514.43" y="725.79">6</text><text class="n" x="445.24" y="729.13">23</text><text class="n" x="573.26" y="736.48">16</text><text class="n" x="509.42" y="740.82">27</text><text class="n" x="676.55" y="740.49">26</text><text class="n" x="611.7" y="745.83">1</text><text class="n" x="477.66" y="750.85">12</text><text class="n" x="519.44" y="749.84">10</text><text class="n" x="442.9" y="757.2">24</text><text class="n" x="506.07" y="755.86">15</text><text class="n" x="551.53" y="754.86">30</text><text class="n" x="466.96" y="767.22">3</text>
<path class="fr" d="M422.9 574.2H703V778.9"/>
<path class="ax" d="M422.9 573.6V778.9H703.6"/>
<path class="tk" d="M422.9 778.9v3.3M446.24 778.9v6.2M469.58 778.9v3.3M492.92 778.9v6.2M516.27 778.9v3.3M539.61 778.9v6.2M562.95 778.9v3.3M586.29 778.9v6.2M609.63 778.9v3.3M632.98 778.9v6.2M656.32 778.9v3.3M679.66 778.9v6.2M703 778.9v3.3M422.9 778.9h-3.3M422.9 761.84h-6.2M422.9 744.78h-3.3M422.9 727.73h-6.2M422.9 710.67h-3.3M422.9 693.61h-6.2M422.9 676.55h-3.3M422.9 659.49h-6.2M422.9 642.43h-3.3M422.9 625.38h-6.2M422.9 608.32h-3.3M422.9 591.26h-6.2M422.9 574.2h-3.3"/>
<text class="t" text-anchor="middle" x="446.24" y="801.7">-0.6</text><text class="t" text-anchor="middle" x="492.92" y="801.7">-0.4</text><text class="t" text-anchor="middle" x="539.61" y="801.7">-0.2</text><text class="t" text-anchor="middle" x="586.29" y="801.7">0</text><text class="t" text-anchor="middle" x="632.98" y="801.7">0.2</text><text class="t" text-anchor="middle" x="679.66" y="801.7">0.4</text><text class="t" text-anchor="end" x="412.1" y="767.04">-0.6</text><text class="t" text-anchor="end" x="412.1" y="732.93">-0.4</text><text class="t" text-anchor="end" x="412.1" y="698.81">-0.2</text><text class="t" text-anchor="end" x="412.1" y="664.69">0</text><text class="t" text-anchor="end" x="412.1" y="630.58">0.2</text><text class="t" text-anchor="end" x="412.1" y="596.46">0.4</text>
<text class="ti" transform="translate(425.1 569.3) scale(1.06 1)">(h) APOI-EAJI</text>
<text class="ti" text-anchor="end" transform="translate(700.4 569.3) scale(1.06 1)">2081-2100</text>
<text class="al" text-anchor="middle" x="563.25" y="822.9">SSP2-4.5</text>
<text class="al" text-anchor="middle" transform="translate(381.3 677.25) rotate(-90)">SSP5-8.5</text>
</g>
<g id="panel-i">
<path class="d" stroke-dasharray="6.3 5.29" d="M791.6 668.68H1064.9"/>
<path class="d" stroke-dasharray="6.3 5.09" d="M963.17 778.9V578.5"/>
<text class="b" x="872.09" y="660.63">BMME</text><text class="r" x="951.64" y="676.23">19</text><text class="b" x="904.85" y="719.77">His</text>
<circle class="c" cx="886.13" cy="590.44" r="6.5"/><circle class="c" cx="1051.92" cy="589.1" r="6.5"/><circle class="c" cx="960" cy="609.82" r="6.5"/><circle class="c" cx="1015.82" cy="619.17" r="6.5"/><circle class="c" cx="1017.49" cy="620.84" r="6.5"/><circle class="c" cx="907.19" cy="627.19" r="6.5"/><circle class="c" cx="981.39" cy="640.56" r="6.5"/><circle class="c" cx="1010.14" cy="639.89" r="6.5"/><circle class="c" cx="829.64" cy="644.23" r="6.5"/><circle class="c" cx="855.38" cy="645.57" r="6.5"/><circle class="c" cx="921.56" cy="652.25" r="6.5"/><circle class="c" cx="1062.62" cy="657.6" r="6.5"/><circle class="c" cx="965.68" cy="655.93" r="6.5"/><circle class="c" cx="915.54" cy="662.28" r="6.5"/><circle class="c" cx="903.18" cy="666.62" r="6.5"/><circle class="c" cx="1039.22" cy="663.28" r="6.5"/><circle class="c" cx="936.6" cy="669.96" r="6.5"/><circle class="c" cx="916.21" cy="673.3" r="6.5"/><circle class="c" cx="1022.51" cy="669.96" r="6.5"/><circle class="c" cx="1026.85" cy="669.96" r="6.5"/><circle class="c" cx="958.33" cy="677.65" r="6.5"/><circle class="c" cx="939.61" cy="680.99" r="6.5"/><circle class="c" cx="1019.83" cy="684" r="6.5"/><circle class="c" cx="1007.47" cy="687.67" r="6.5"/><circle class="c" cx="882.12" cy="694.02" r="6.5"/><circle class="c" cx="826.96" cy="695.69" r="6.5"/><circle class="c" cx="932.26" cy="700.04" r="6.5"/><circle class="c" cx="879.78" cy="710.06" r="6.5"/><circle class="c" cx="942.95" cy="710.06" r="6.5"/><circle class="c" cx="1002.45" cy="717.74" r="6.5"/><circle class="c" cx="825.29" cy="756.17" r="6.5"/><circle class="c" cx="881.11" cy="756.17" r="6.5"/>
<path class="m" d="M872.09 632.29L879.49 644.69L864.69 644.69Z"/>
<path class="m" d="M920.56 692.44L928.16 700.04L920.56 707.64L912.96 700.04Z"/>
<text class="n" x="872.76" y="611.84">20</text><text class="n" x="1041.56" y="610.17">5</text><text class="n" x="947.3" y="630.56">28</text><text class="n" x="1002.45" y="639.58">31</text><text class="n" x="1008.13" y="641.25">9</text><text class="n" x="893.82" y="647.93">17</text><text class="n" x="816.94" y="665.31">12</text><text class="n" x="842.67" y="666.31">13</text><text class="n" x="968.36" y="661.3">16</text><text class="n" x="996.77" y="661.3">30</text><text class="n" x="911.53" y="672.99">2</text><text class="n" x="1049.25" y="678.67">32</text><text class="r r4" x="905.52" y="682.25">4</text><text class="n" x="1028.52" y="684.02">7</text><text class="n" x="893.15" y="687.36">3</text><text class="n" x="902.84" y="693.71">24</text><text class="rr" x="922.9" y="690.6">11</text><text class="n" x="1013.48" y="689.7">14</text><text class="n" x="1010.14" y="689.7">1</text><text class="n" x="944.96" y="698.05">15</text><text class="n" x="925.57" y="701.39">21</text><text class="n" x="994.09" y="708.74">25</text><text class="n" x="1009.81" y="704.74">8</text><text class="n" x="812.92" y="717.1">29</text><text class="n" x="868.75" y="715.43">18</text><text class="n" x="919.55" y="719.77">10</text><text class="n" x="866.07" y="730.8">22</text><text class="n" x="929.92" y="730.8">23</text><text class="n" x="992.42" y="738.15">6</text><text class="n" x="811.92" y="776.58">27</text><text class="n" x="867.74" y="776.58">26</text>
<path class="fr" d="M791.6 574.2H1070.4V778.9"/>
<path class="ax" d="M791.6 573.6V778.9H1071"/>
<path class="tk" d="M791.6 778.9v6.2M813.05 778.9v3.3M834.49 778.9v6.2M855.94 778.9v3.3M877.38 778.9v6.2M898.83 778.9v3.3M920.28 778.9v6.2M941.72 778.9v3.3M963.17 778.9v6.2M984.62 778.9v3.3M1006.06 778.9v6.2M1027.51 778.9v3.3M1048.95 778.9v6.2M1070.4 778.9v3.3M791.6 778.9h-3.3M791.6 763.15h-6.2M791.6 747.41h-3.3M791.6 731.66h-6.2M791.6 715.92h-3.3M791.6 700.17h-6.2M791.6 684.42h-3.3M791.6 668.68h-6.2M791.6 652.93h-3.3M791.6 637.18h-6.2M791.6 621.44h-3.3M791.6 605.69h-6.2M791.6 589.95h-3.3M791.6 574.2h-6.2"/>
<text class="t" text-anchor="middle" x="791.6" y="801.7">-0.8</text><text class="t" text-anchor="middle" x="834.49" y="801.7">-0.6</text><text class="t" text-anchor="middle" x="877.38" y="801.7">-0.4</text><text class="t" text-anchor="middle" x="920.28" y="801.7">-0.2</text><text class="t" text-anchor="middle" x="963.17" y="801.7">0</text><text class="t" text-anchor="middle" x="1006.06" y="801.7">0.2</text><text class="t" text-anchor="middle" x="1048.95" y="801.7">0.4</text><text class="t" text-anchor="end" x="780.8" y="768.35">-0.6</text><text class="t" text-anchor="end" x="780.8" y="736.86">-0.4</text><text class="t" text-anchor="end" x="780.8" y="705.37">-0.2</text><text class="t" text-anchor="end" x="780.8" y="673.88">0</text><text class="t" text-anchor="end" x="780.8" y="642.38">0.2</text><text class="t" text-anchor="end" x="780.8" y="610.89">0.4</text><text class="t" text-anchor="end" x="780.8" y="579.4">0.6</text>
<text class="ti" transform="translate(793.8 569.3) scale(1.06 1)">(i) EAJI-SCPI</text>
<text class="ti" text-anchor="end" transform="translate(1067.8 569.3) scale(1.06 1)">2081-2100</text>
<text class="al" text-anchor="middle" x="931.3" y="822.9">SSP2-4.5</text>
<text class="al" text-anchor="middle" transform="translate(750 677.25) rotate(-90)">SSP5-8.5</text>
</g>
</svg></body></html>
